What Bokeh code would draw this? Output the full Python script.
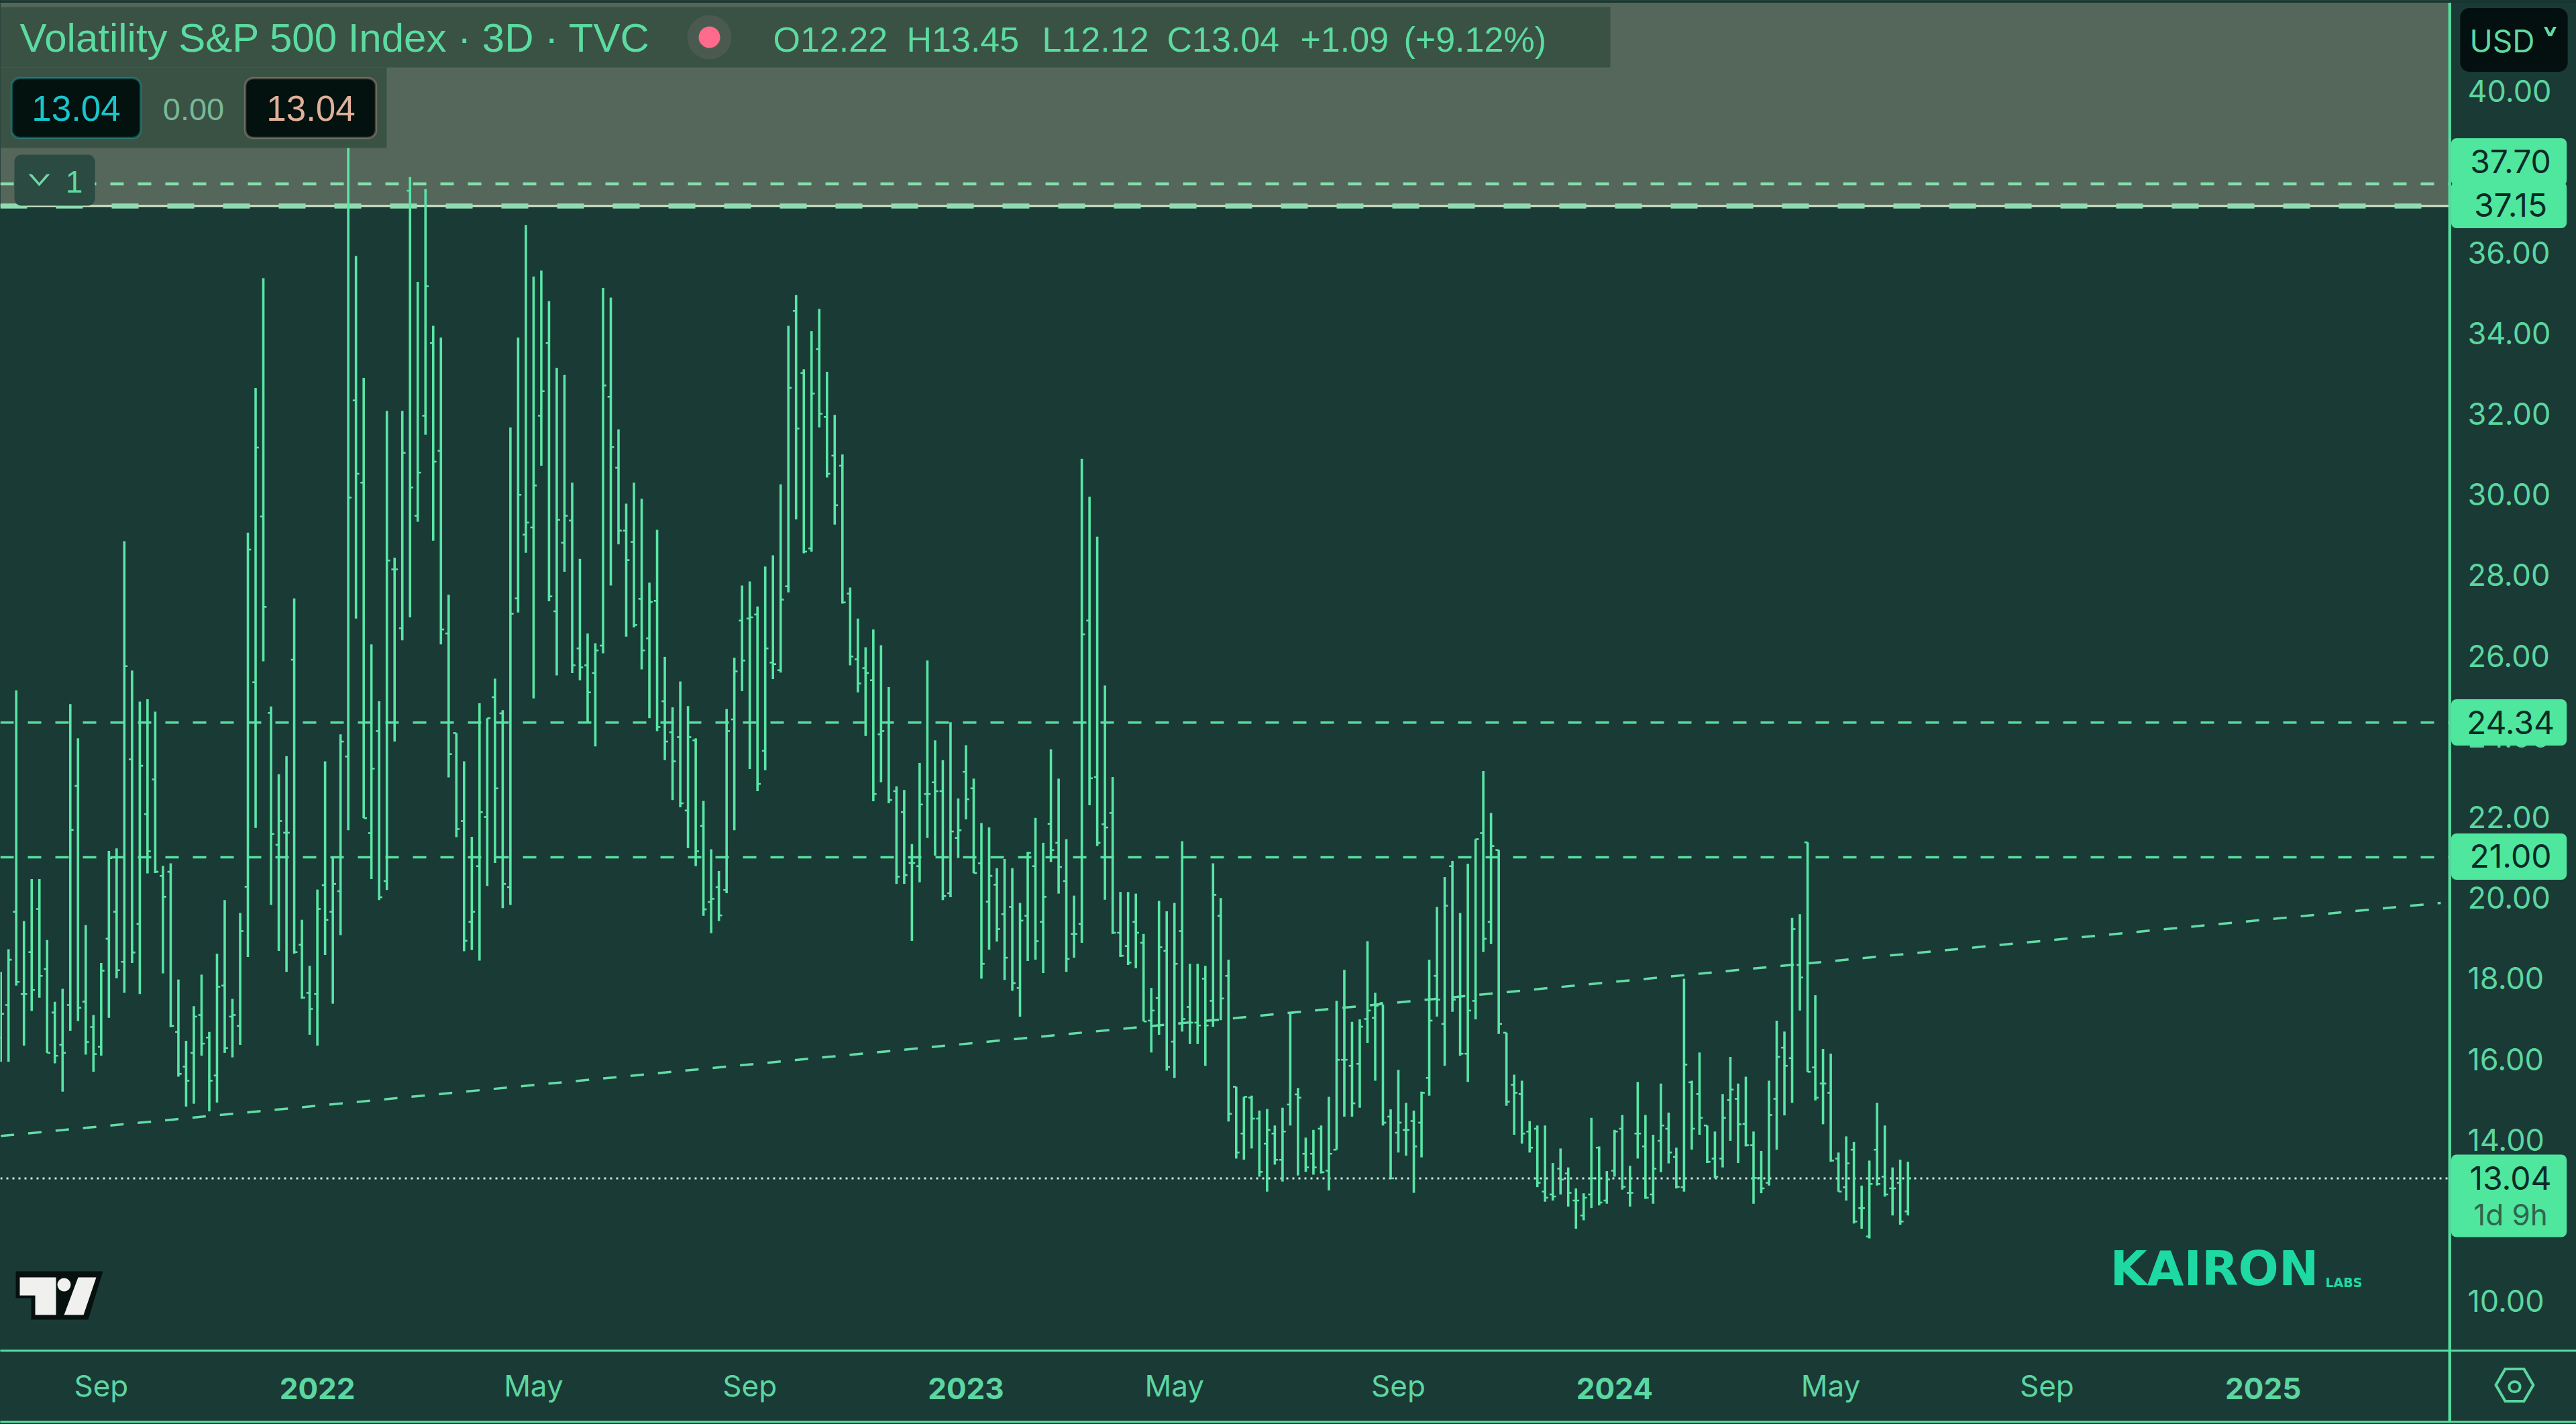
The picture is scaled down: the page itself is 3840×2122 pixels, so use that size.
from bokeh.plotting import figure
from bokeh.models import (Range1d, LinearAxis, FixedTicker, NumeralTickFormatter, BoxAnnotation,
                          Label, PolyAnnotation, ColumnDataSource)
from bokeh.embed import file_html
from bokeh.resources import INLINE

highs = [18.16,18.72,25.14,19.42,20.46,20.46,18.95,17.42,17.74,24.80,23.95,19.32,17.09,18.38,21.16,21.22,28.84,25.63,24.86,24.92,24.61,20.79,20.85,17.97,16.45,17.31,18.09,16.67,18.61,19.94,17.49,19.62,29.05,32.64,35.36,24.74,23.06,23.51,27.42,19.45,18.31,20.20,
 23.38,21.01,24.05,39.5,35.91,32.89,26.28,24.87,32.07,28.43,32.07,37.87,35.27,37.57,34.18,33.89,27.51,24.08,23.38,21.51,24.82,24.45,25.43,24.65,31.66,33.89,36.68,35.40,35.55,34.79,33.14,32.96,30.29,28.40,26.55,26.31,35.12,34.88,31.61,29.77,30.29,29.89,
 27.81,29.12,25.97,24.72,25.36,24.75,23.95,22.40,21.20,20.66,24.68,25.95,27.74,27.84,27.22,28.21,28.49,30.25,34.18,34.94,33.10,34.05,34.60,33.04,31.97,30.99,27.69,26.92,26.21,26.65,26.26,25.22,22.76,22.67,21.33,23.34,25.88,23.90,23.41,24.35,22.46,23.78,
 22.95,21.85,21.74,20.73,20.96,20.73,19.87,21.13,21.98,21.36,23.68,22.95,21.45,20.05,30.88,29.94,28.95,25.26,22.99,20.14,20.14,20.10,19.10,17.76,19.92,19.66,19.87,21.40,18.36,18.36,18.31,20.85,19.99,18.46,15.31,15.06,15.09,14.72,14.76,14.35,14.79,
 17.14,15.28,14.05,14.24,14.35,15.06,17.44,18.21,16.92,16.98,18.92,17.64,17.35,14.75,15.73,14.91,14.72,15.19,18.46,19.77,20.51,20.91,19.62,20.84,21.45,23.14,22.10,21.18,16.65,15.61,15.46,14.46,14.35,14.35,13.42,13.78,13.31,12.79,12.67,14.54,13.83,13.22,
 14.24,14.61,13.35,15.43,14.61,14.12,15.39,14.67,13.80,17.99,15.46,16.16,14.35,14.20,15.13,16.05,15.39,15.56,14.20,13.72,15.46,16.95,16.68,19.50,19.59,21.37,17.58,16.25,16.13,13.68,14.08,13.94,12.86,13.48,14.91,14.35,13.31,13.50,13.45]
lows = [15.93,15.93,17.82,16.33,17.19,17.52,16.15,15.89,15.19,16.70,16.94,16.11,15.68,16.08,17.02,18.00,17.64,18.38,17.61,20.60,20.61,18.12,16.79,15.56,14.82,14.89,16.08,14.70,14.92,16.15,16.04,16.35,18.53,21.73,25.86,19.82,18.68,18.16,18.61,17.49,16.60,16.33,
 18.58,17.37,19.07,21.67,26.92,21.97,20.46,19.94,20.19,23.87,26.38,26.95,29.32,31.48,28.85,26.28,22.98,21.50,18.67,18.70,18.44,20.29,20.86,19.74,19.82,27.07,28.55,24.94,30.71,27.35,25.51,28.08,25.57,25.39,24.35,23.75,26.06,27.74,28.76,26.47,26.70,25.66,
 24.45,24.13,23.41,22.42,22.24,21.23,20.78,19.55,19.12,19.42,20.11,21.67,25.12,23.19,22.64,23.16,25.42,25.58,27.57,29.38,28.54,28.58,31.66,30.42,29.25,27.29,25.76,25.09,24.01,22.39,22.86,22.34,20.34,20.34,18.93,20.38,21.48,21.04,19.94,20.01,20.98,21.94,
 20.61,17.99,18.71,18.91,17.96,17.69,17.05,18.43,18.46,18.13,20.88,20.10,18.16,18.51,18.88,22.29,21.28,19.95,19.10,18.53,18.33,18.25,16.93,16.16,16.60,15.71,15.53,16.68,16.37,16.37,15.83,16.80,16.96,14.45,13.53,13.50,13.78,13.08,12.71,13.38,12.96,
 14.35,13.11,13.20,13.13,13.16,12.74,13.75,14.57,14.57,14.79,16.40,15.46,14.35,13.04,13.68,13.60,12.68,13.56,15.09,17.05,15.83,17.17,16.08,15.43,16.98,18.65,18.85,16.62,14.84,14.12,13.90,13.68,12.82,12.46,12.49,12.64,12.34,11.79,12.00,12.30,12.37,12.41,
 13.08,12.76,12.34,13.53,12.53,12.41,13.19,13.41,12.79,12.71,13.75,14.12,13.42,13.04,13.31,13.97,13.42,13.83,12.41,12.67,12.86,13.75,14.60,14.91,17.20,15.68,14.97,14.38,13.45,12.71,12.49,11.92,11.79,11.55,12.86,12.59,12.12,11.89,12.12]
opens = [16.53,17.34,19.65,17.61,18.65,19.72,18.23,17.15,16.35,17.34,22.77,17.42,16.79,16.30,18.98,19.65,18.41,23.43,19.35,22.07,22.93,20.54,20.64,16.67,15.81,16.15,17.09,16.53,15.59,17.82,17.05,16.82,20.27,25.34,29.45,24.58,21.31,21.61,25.90,18.83,17.64,17.61,
 20.31,19.65,20.16,23.50,32.33,30.29,21.60,24.13,20.41,28.14,26.68,37.53,29.47,31.95,33.75,31.08,26.55,24.08,21.90,19.40,20.78,22.00,24.97,24.57,20.26,27.42,29.00,29.18,31.95,33.75,27.10,28.80,29.35,26.18,25.76,25.57,26.25,32.42,30.66,29.10,28.82,27.41,
 26.43,27.36,24.87,24.10,23.98,22.16,23.90,21.78,19.89,20.26,20.19,24.42,26.87,26.92,27.02,23.64,25.83,25.64,27.72,34.55,33.01,28.66,33.60,31.92,30.96,30.71,27.54,25.91,25.69,25.39,24.05,24.35,22.64,22.12,20.86,20.78,22.57,22.86,22.64,20.11,21.48,23.12,
 22.71,20.85,19.90,20.32,19.59,19.77,17.76,19.55,20.78,19.40,21.83,21.36,20.41,19.10,19.35,26.87,22.99,21.82,22.10,19.13,18.80,19.40,18.88,16.95,17.51,18.68,16.43,19.17,17.29,16.90,17.99,17.44,19.55,18.06,15.31,14.15,15.04,14.52,13.90,14.15,13.50,
 14.87,15.12,13.65,13.65,14.27,13.23,13.75,15.98,15.83,15.88,16.99,17.02,17.39,14.57,14.17,14.24,14.46,14.42,15.53,18.06,16.87,20.78,17.54,16.13,17.44,21.60,19.40,21.18,16.65,15.36,15.13,14.20,14.27,12.71,12.64,13.28,13.16,12.49,12.12,12.64,13.80,12.49,
 13.23,14.27,12.68,14.15,13.83,12.64,13.97,14.27,13.57,12.82,15.42,15.13,14.35,13.53,13.53,14.98,15.01,14.39,13.86,13.05,12.93,15.01,16.28,16.02,18.33,21.37,15.79,15.39,15.16,13.53,12.82,13.75,12.30,11.60,13.75,13.08,12.79,12.93,12.22]
closes = [17.12,18.46,17.91,17.61,17.71,18.06,16.15,16.08,16.15,21.68,17.27,16.42,16.12,18.19,20.98,18.20,25.74,18.64,23.27,21.15,20.64,20.02,16.82,15.63,15.46,17.05,16.38,15.46,17.79,16.27,17.09,19.17,28.63,31.16,27.21,21.58,21.90,21.61,18.65,17.52,17.24,19.72,
 19.45,20.34,23.87,29.92,30.51,21.97,23.20,20.01,28.36,28.14,31.03,30.17,30.54,35.16,30.81,26.65,23.56,21.70,18.93,19.65,22.12,24.45,22.71,20.34,27.04,29.99,29.30,30.22,32.56,27.47,29.37,29.47,25.76,25.71,25.09,26.13,32.70,31.17,29.10,28.37,26.76,26.13,
 27.33,24.23,23.87,23.38,22.34,23.98,21.15,19.71,19.97,19.56,24.13,25.61,25.88,26.95,22.82,26.18,25.79,27.39,32.64,31.63,28.58,32.50,32.00,30.51,29.73,27.32,25.98,25.31,25.57,22.57,24.13,22.42,20.52,20.56,20.86,22.31,22.57,22.64,20.04,21.64,21.67,22.44,
 20.61,18.36,20.54,19.22,18.51,17.88,19.43,21.11,18.92,20.02,21.18,20.76,18.48,19.10,26.53,22.96,21.36,21.74,19.13,18.56,18.39,19.13,16.93,17.20,18.77,15.80,18.36,16.99,16.90,16.83,16.83,20.07,17.50,14.64,13.68,15.06,14.52,13.20,14.24,13.50,14.20,
 17.14,15.04,13.31,13.31,13.19,13.65,15.98,15.98,14.90,16.80,17.20,17.32,14.42,13.04,14.42,14.24,13.83,15.16,16.95,17.47,19.80,17.47,16.13,17.20,21.45,18.98,21.28,16.87,14.94,15.16,14.15,13.80,12.93,12.56,12.59,13.01,12.68,12.49,12.56,13.04,12.44,13.01,
 14.20,12.83,12.68,14.15,12.56,13.28,14.35,13.68,12.83,15.86,14.27,14.54,13.45,13.08,14.54,15.24,14.38,13.86,13.05,12.79,14.61,16.05,15.83,19.22,18.02,15.68,15.04,15.39,13.48,12.71,13.41,11.97,12.30,12.90,12.90,12.64,12.79,11.97,13.04]

price_ticks = [10,12,14,16,18,20,22,24,26,28,30,32,34,36,38,40]
month_pos = [13,69,97,152,181,237,265]
month_labels = ["Sep","May","Sep","May","Sep","May","Sep"]
year_pos = [41,125,209,293]
year_labels = ["2022","2023","2024","2025"]
level_solid = 37.15
level_dash = [37.70, 24.34, 21.00]
last_price = 13.04
trend_x = [0, 316]
trend_y = [14.09, 19.87]

BG = "#1a3a36"; GREEN = "#56e0a0"; TXT = "#5cd6a0"; TAG = "#4fe69e"; DARK = "#0c2b28"; BAR = "#58e6a6"

n = len(highs)
assert len(lows) == n and len(opens) == n and len(closes) == n, (n, len(lows), len(opens), len(closes))
idx = list(range(n))
XA, XB = -0.061, 317.14

p = figure(width=3840, height=2122, frame_width=3651, frame_height=2012,
           min_border_left=0, min_border_top=0, min_border_right=189, min_border_bottom=110,
           x_range=Range1d(XA, XB), y_range=Range1d(8.77, 42.25),
           x_axis_type=None, y_axis_type=None, toolbar_location=None, output_backend="svg",
           background_fill_color=BG, border_fill_color=BG, outline_line_color=None)
p.grid.visible = False

yax = LinearAxis(ticker=FixedTicker(ticks=price_ticks), formatter=NumeralTickFormatter(format="0.00"),
                 axis_line_color=None, major_tick_line_color=None, minor_tick_line_color=None,
                 major_label_text_color=TXT, major_label_text_font="Inter",
                 major_label_text_font_size="45px", major_label_standoff=21)
p.add_layout(yax, "right")
xax = LinearAxis(ticker=FixedTicker(ticks=month_pos),
                 major_label_overrides={a: b for a, b in zip(month_pos, month_labels)},
                 axis_line_color=None, major_tick_line_color=None, minor_tick_line_color=None,
                 major_label_text_color=TXT, major_label_text_font="Inter",
                 major_label_text_font_size="44px", major_label_standoff=19)
p.add_layout(xax, "below")

p.add_layout(BoxAnnotation(bottom=level_solid, fill_color="#55665a", fill_alpha=1, line_color=None, level="underlay"))

p.segment(x0=XA, x1=XB, y0=level_dash[0], y1=level_dash[0], line_color="#86dcae", line_width=4.5, line_dash="20 21")
p.segment(x0=XA, x1=XB, y0=level_solid, y1=level_solid, line_color="#d5e8cc", line_width=3)
p.segment(x0=XA, x1=XB, y0=level_solid, y1=level_solid, line_color="#8fdcae", line_width=7.5, line_dash="40 43")
for lv in level_dash[1:]:
    p.segment(x0=XA, x1=XB, y0=lv, y1=lv, line_color=GREEN, line_width=3.5, line_dash="20 21")
p.line(trend_x, trend_y, line_color="#62dca6", line_width=3.5, line_dash="20 21")
p.segment(x0=XA, x1=XB, y0=last_price, y1=last_price, line_color="#cfe8da", line_width=3, line_dash="3 6")

src = ColumnDataSource(dict(x=idx, h=highs, l=lows, o=opens, c=closes,
                            xl=[i - 0.42 for i in idx], xr=[i + 0.42 for i in idx]))
p.segment(x0="x", x1="x", y0="l", y1="h", source=src, line_color=BAR, line_width=3.6)
p.segment(x0="xl", x1="x", y0="o", y1="o", source=src, line_color=BAR, line_width=2.6)
p.segment(x0="x", x1="xr", y0="c", y1="c", source=src, line_color=BAR, line_width=2.6)


def box(l, r, t, b, color, line=None, lw=0, radius=0, level="annotation"):
    p.add_layout(BoxAnnotation(left=l, right=r, top=t, bottom=b,
                               left_units="canvas", right_units="canvas", top_units="canvas", bottom_units="canvas",
                               fill_color=color, fill_alpha=1 if color else 0, line_color=line, line_width=lw,
                               border_radius=radius, level=level))


def rect(l, r, t, b, color, line=None, lw=0, radius=0, side="right"):
    # a background-only label: paints outside the frame, where box annotations are clipped away
    pv = max(0, round((b - t - 1.2) / 2))
    ph = max(0, round((r - l) / 2))
    p.add_layout(Label(x=(l + r) / 2, y=(t + b) / 2, x_units="canvas", y_units="canvas", text=" ",
                       text_font_size="1px", text_align="center", text_baseline="middle",
                       background_fill_color=color, border_line_color=line, border_line_width=lw,
                       border_radius=radius, padding=(ph, pv), level="overlay"), side)


def text(x, y, s, size, color, font="Inter", style="normal", align="left", side="center"):
    p.add_layout(Label(x=x, y=y, x_units="canvas", y_units="canvas", text=s, text_font=font,
                       text_font_size=f"{size}px", text_color=color, text_font_style=style,
                       text_align=align, text_baseline="middle", level="overlay"), side)


def poly(pts, color=None, line=None, lw=0):
    p.add_layout(PolyAnnotation(xs=[a for a, _ in pts], ys=[b for _, b in pts],
                                xs_units="canvas", ys_units="canvas", fill_color=color,
                                fill_alpha=1 if color else 0, line_color=line, line_width=lw, level="overlay"))


def chevron(cx, cy, w, h, t, color):
    poly([(cx - w, cy - h), (cx - w + t, cy - h), (cx, cy + h - t), (cx + w - t, cy - h), (cx + w, cy - h),
          (cx, cy + h)], color)


# frame lines
rect(0, 3840, 2010.5, 2014, GREEN, side="below")
rect(0, 3840, 2116.5, 2120, GREEN, side="below")
rect(3649.5, 3653, 0, 2120, GREEN, side="right")
rect(0, 3840, 0, 4, "#173530", side="right")

# header panels
box(0, 2400, 10, 100, "#3a5244")
box(0, 576, 100, 220, "#3a5244")
text(29, 56, "Volatility S&P 500 Index · 3D · TVC", 60, "#5cdba0", font="Liberation Sans")
box(1024, 1090, 22, 88, "#4b5a50", radius=33)
box(1041, 1073, 39, 71, "#ff6b8c", radius=16)
for xp, s in zip([1152, 1351, 1553, 1739, 1938, 2092], ["O12.22", "H13.45", "L12.12", "C13.04", "+1.09", "(+9.12%)"]):
    text(xp, 58, s, 52, "#5cdba0", font="Liberation Sans")

box(17, 209, 116, 205, "#03110f", line="#17c8d0", lw=3.5, radius=12)
text(113, 161, "13.04", 53, "#19c5cd", font="Liberation Sans", align="center")
text(288, 162, "0.00", 47, "#79b898", font="Liberation Sans", align="center")
box(365, 560, 116, 205, "#03110f", line="#e8b9a5", lw=3.5, radius=12)
text(463, 161, "13.04", 53, "#e0b09a", font="Liberation Sans", align="center")

box(21, 141, 230, 306, "#2b4a42", radius=10)
chevron(58, 268, 16, 9, 5, "#6fd8a8")
text(110, 270, "1", 46, "#5cdba0", font="Liberation Sans", align="center")

# price scale tags
R = "right"
rect(3653, 3826, 205, 277, TAG, radius=8)
rect(3653, 3826, 270, 340, TAG, radius=8)
text(3742, 240, "37.70", 48, DARK, align="center", side=R)
text(3742, 305, "37.15", 48, DARK, align="center", side=R)
rect(3653, 3826, 1041, 1111, TAG, radius=8)
text(3742, 1076, "24.34", 48, DARK, align="center", side=R)
rect(3653, 3826, 1241, 1311, TAG, radius=8)
text(3742, 1275, "21.00", 48, DARK, align="center", side=R)
rect(3653, 3826, 1720, 1843, TAG, radius=8)
text(3742, 1755, "13.04", 48, DARK, align="center", side=R)
text(3742, 1809, "1d 9h", 44, "#2f6650", align="center", side=R)

rect(3667, 3827, 11, 107, "#03100f", radius=14)
text(3681, 60, "USD", 46, "#62d8a2", side=R)
text(3801, 66, "˅", 58, "#62d8a2", font="DejaVu Sans", style="bold", align="center", side=R)

# time scale years
for xp, s in zip(year_pos, year_labels):
    p.add_layout(Label(x=xp, y=2068, x_units="data", y_units="canvas", text=s, text_font="Inter",
                       text_font_size="44px", text_font_style="bold", text_color=TXT,
                       text_align="center", text_baseline="middle", level="overlay"), "below")

# settings icon
text(3748, 2064, "⎔", 72, TXT, font="DejaVu Sans", align="center", side="below")
rect(3740, 3756, 2058, 2074, None, line=TXT, lw=4, radius=8, side="below")

# TradingView mark
poly([(23, 1894), (153, 1894), (131, 1966), (46, 1966), (46, 1934), (23, 1934)], "#06110f")
poly([(29, 1903), (83, 1903), (83, 1959), (52, 1959), (52, 1930), (29, 1930)], "#f0f0ee")
poly([(116, 1903), (143, 1903), (124, 1959), (95, 1959)], "#f0f0ee")
box(85, 105, 1904, 1924, "#f0f0ee", radius=10, level="overlay")

# wordmark
text(3145, 1890, "KAIRON", 71, "#1ed9a3", font="DejaVu Sans", style="bold")
text(3466, 1910, "LABS", 19, "#1ed9a3", font="DejaVu Sans", style="bold")

html = file_html(p, INLINE).replace("<head>", "<head><style>html,body{margin:0;background:#1a3a36}</style>", 1)
open("out.html", "w").write(html)
